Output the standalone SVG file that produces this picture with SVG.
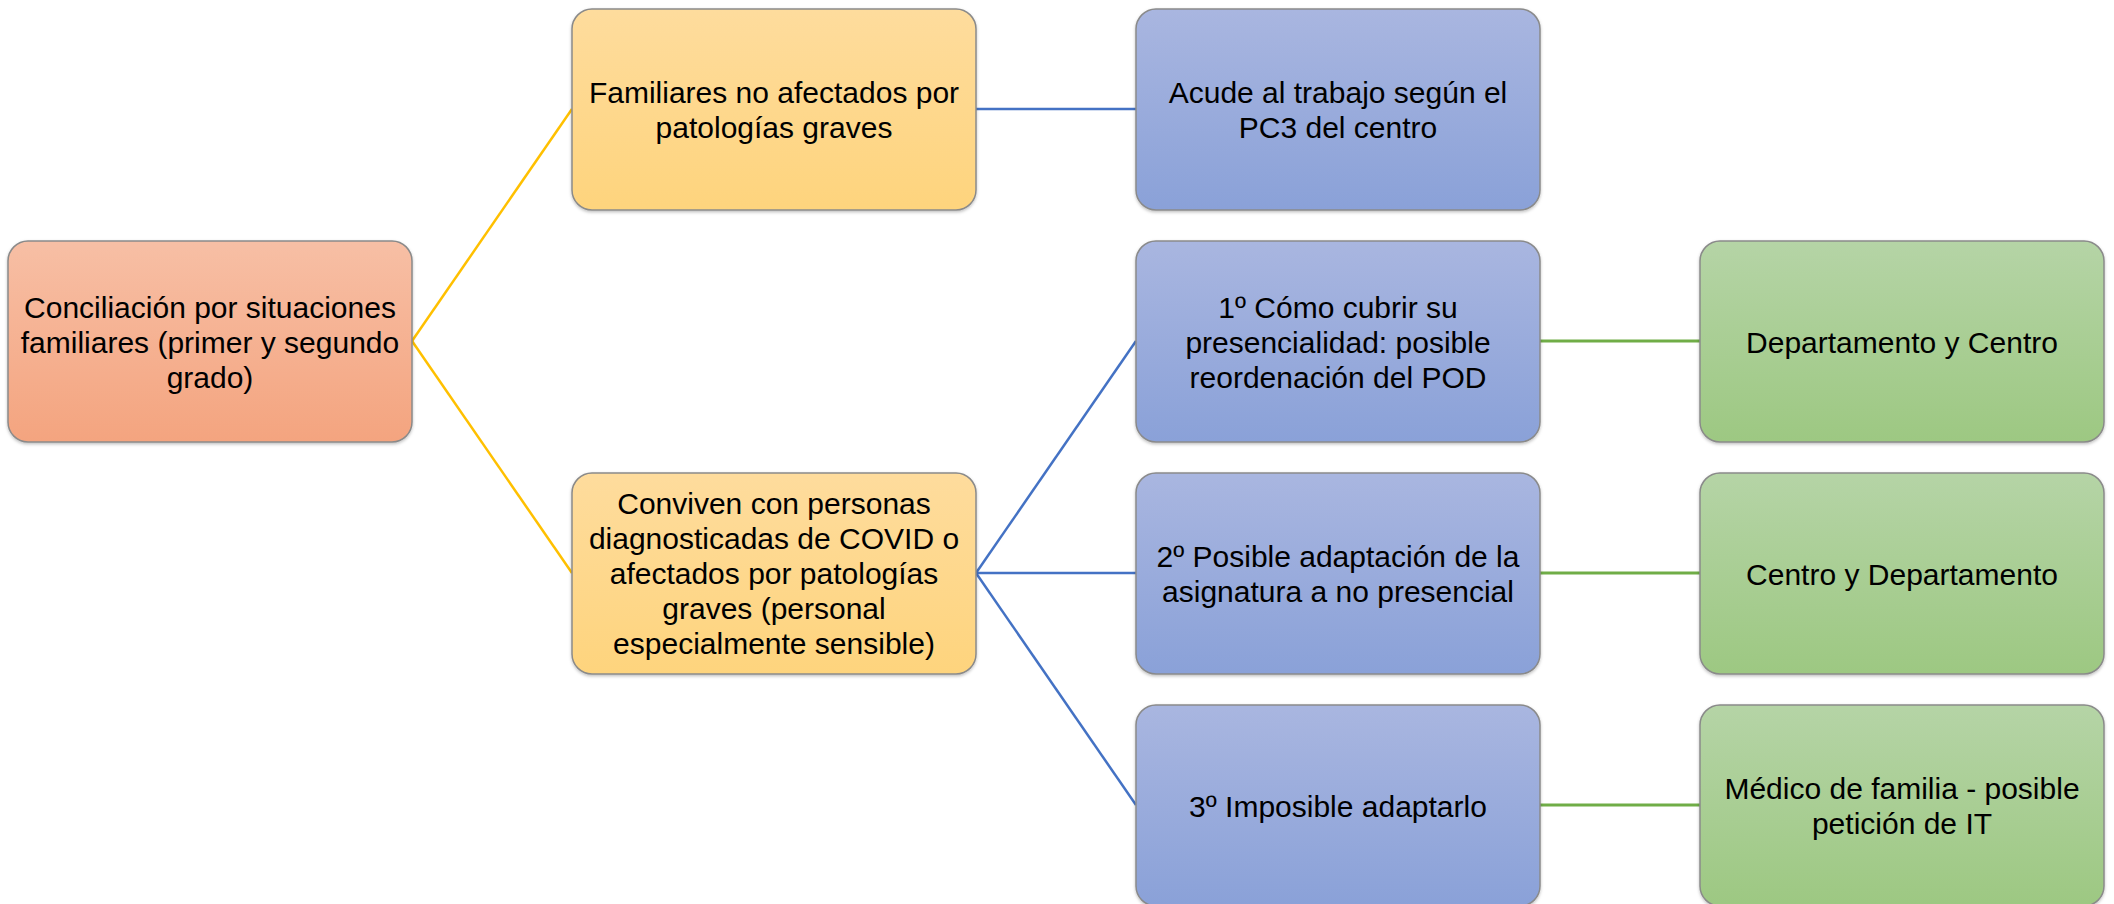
<svg xmlns="http://www.w3.org/2000/svg" width="2114" height="904" viewBox="0 0 2114 904">
<defs>
<linearGradient id="gOrange" x1="0" y1="0" x2="0" y2="1"><stop offset="0" stop-color="#F7BFA5"/><stop offset="1" stop-color="#F4A47F"/></linearGradient>
<linearGradient id="gYellow" x1="0" y1="0" x2="0" y2="1"><stop offset="0" stop-color="#FEDC9D"/><stop offset="1" stop-color="#FED47D"/></linearGradient>
<linearGradient id="gBlue" x1="0" y1="0" x2="0" y2="1"><stop offset="0" stop-color="#A9B6E0"/><stop offset="1" stop-color="#8AA1D8"/></linearGradient>
<linearGradient id="gGreen" x1="0" y1="0" x2="0" y2="1"><stop offset="0" stop-color="#B5D4A6"/><stop offset="1" stop-color="#9DC882"/></linearGradient>
<filter id="sh" x="-5%" y="-5%" width="110%" height="115%"><feDropShadow dx="0" dy="1.5" stdDeviation="1.5" flood-color="#000" flood-opacity="0.25"/></filter>
</defs>
<style>
.box{stroke:#8a8a8a;stroke-width:1.5;filter:url(#sh)}
.t{font-family:"Liberation Sans",Arial,sans-serif;font-size:30px;fill:#000;text-anchor:middle}
.cy{stroke:#FFC000;stroke-width:2.5;fill:none}
.cb{stroke:#4472C4;stroke-width:2.5;fill:none}
.cg{stroke:#70AD47;stroke-width:3;fill:none}
</style>
<rect width="2114" height="904" fill="#fff"/>
<g id="connectors">
<line class="cy" x1="412" y1="341" x2="572" y2="109"/>
<line class="cy" x1="412" y1="341" x2="572" y2="573"/>
<line class="cb" x1="976" y1="109" x2="1136" y2="109"/>
<line class="cb" x1="976" y1="573" x2="1136" y2="341"/>
<line class="cb" x1="976" y1="573" x2="1136" y2="573"/>
<line class="cb" x1="976" y1="573" x2="1136" y2="805"/>
<line class="cg" x1="1540" y1="341" x2="1700" y2="341"/>
<line class="cg" x1="1540" y1="573" x2="1700" y2="573"/>
<line class="cg" x1="1540" y1="805" x2="1700" y2="805"/>
</g>
<g id="root">
<rect class="box" x="8" y="241" width="404" height="201" rx="20" fill="url(#gOrange)"/>
<text class="t"><tspan x="210" y="318">Conciliación por situaciones</tspan><tspan x="210" y="353">familiares (primer y segundo</tspan><tspan x="210" y="388">grado)</tspan></text>
</g>
<g id="familiares">
<rect class="box" x="572" y="9" width="404" height="201" rx="20" fill="url(#gYellow)"/>
<text class="t"><tspan x="774" y="103">Familiares no afectados por</tspan><tspan x="774" y="138">patologías graves</tspan></text>
</g>
<g id="conviven">
<rect class="box" x="572" y="473" width="404" height="201" rx="20" fill="url(#gYellow)"/>
<text class="t"><tspan x="774" y="514">Conviven con personas</tspan><tspan x="774" y="549">diagnosticadas de COVID o</tspan><tspan x="774" y="584">afectados por patologías</tspan><tspan x="774" y="619">graves (personal</tspan><tspan x="774" y="654">especialmente sensible)</tspan></text>
</g>
<g id="acude">
<rect class="box" x="1136" y="9" width="404" height="201" rx="20" fill="url(#gBlue)"/>
<text class="t"><tspan x="1338" y="103">Acude al trabajo según el</tspan><tspan x="1338" y="138">PC3 del centro</tspan></text>
</g>
<g id="paso1">
<rect class="box" x="1136" y="241" width="404" height="201" rx="20" fill="url(#gBlue)"/>
<text class="t"><tspan x="1338" y="318">1º Cómo cubrir su</tspan><tspan x="1338" y="353">presencialidad: posible</tspan><tspan x="1338" y="388">reordenación del POD</tspan></text>
</g>
<g id="paso2">
<rect class="box" x="1136" y="473" width="404" height="201" rx="20" fill="url(#gBlue)"/>
<text class="t"><tspan x="1338" y="567">2º Posible adaptación de la</tspan><tspan x="1338" y="602">asignatura a no presencial</tspan></text>
</g>
<g id="paso3">
<rect class="box" x="1136" y="705" width="404" height="201" rx="20" fill="url(#gBlue)"/>
<text class="t"><tspan x="1338" y="817">3º Imposible adaptarlo</tspan></text>
</g>
<g id="dep-centro">
<rect class="box" x="1700" y="241" width="404" height="201" rx="20" fill="url(#gGreen)"/>
<text class="t"><tspan x="1902" y="353">Departamento y Centro</tspan></text>
</g>
<g id="centro-dep">
<rect class="box" x="1700" y="473" width="404" height="201" rx="20" fill="url(#gGreen)"/>
<text class="t"><tspan x="1902" y="585">Centro y Departamento</tspan></text>
</g>
<g id="medico">
<rect class="box" x="1700" y="705" width="404" height="201" rx="20" fill="url(#gGreen)"/>
<text class="t"><tspan x="1902" y="799">Médico de familia - posible</tspan><tspan x="1902" y="834">petición de IT</tspan></text>
</g>
</svg>
